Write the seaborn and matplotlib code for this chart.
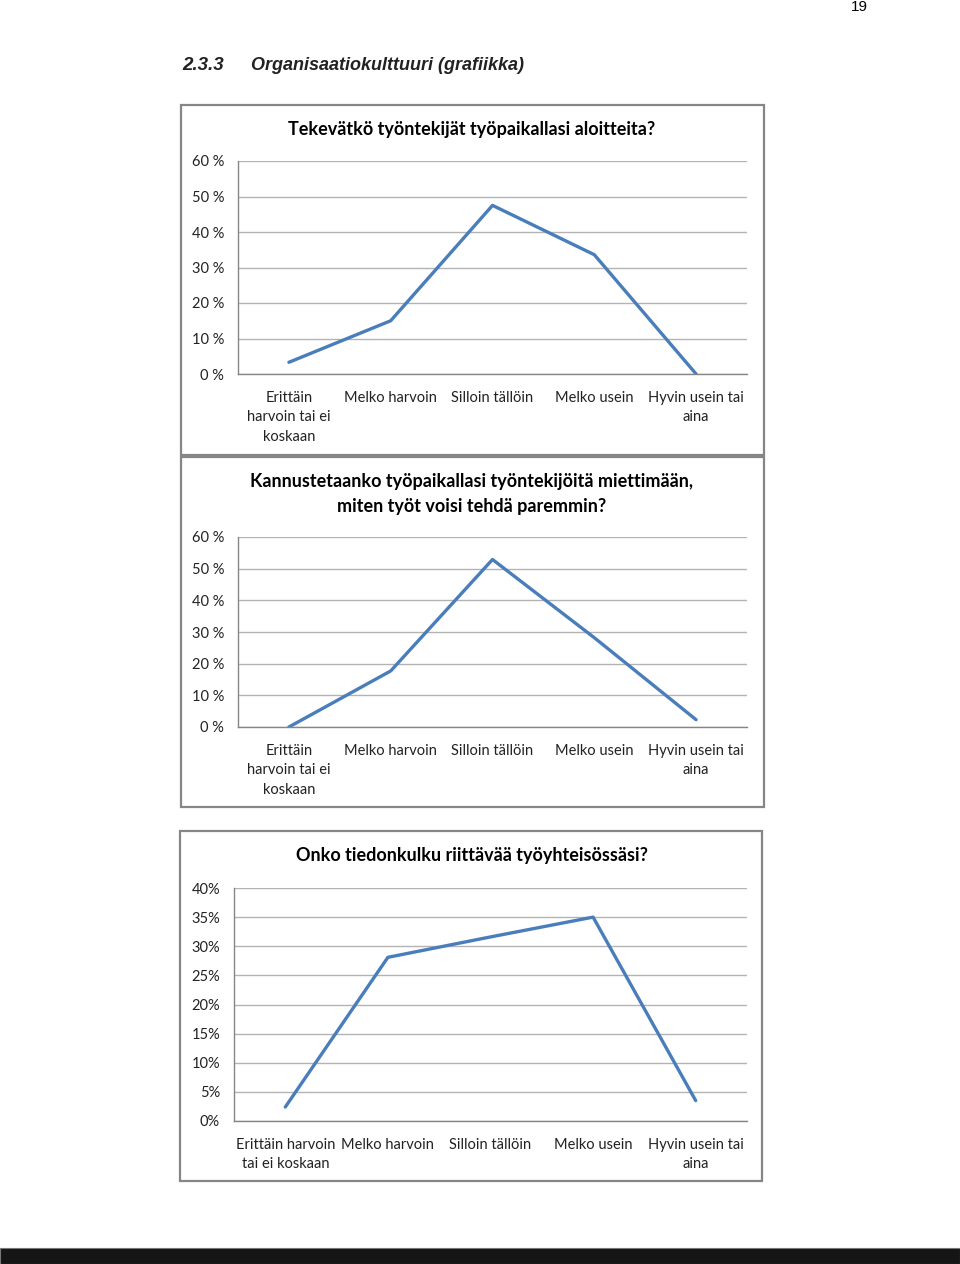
import numpy as np
import pandas as pd
import matplotlib
matplotlib.use('Agg')
import matplotlib.pyplot as plt
from matplotlib.patches import Rectangle
import seaborn as sns

sns.set_style('white')
plt.rcParams['font.family'] = ['Lato', 'DejaVu Sans']

W, H = 960, 1264
blue = '#4a7ebb'
gridc = '#b3b3b3'
axisc = '#868686'

# ---- data ----
cats_a = ['Erittäin\nharvoin tai ei\nkoskaan', 'Melko harvoin', 'Silloin tällöin',
          'Melko usein', 'Hyvin usein tai\naina']
cats_b = ['Erittäin harvoin\ntai ei koskaan', 'Melko harvoin', 'Silloin tällöin',
          'Melko usein', 'Hyvin usein tai\naina']

title1 = 'Tekevätkö työntekijät työpaikallasi aloitteita?'
vals1 = [0.033, 0.150, 0.475, 0.336, 0.0]

title2 = 'Kannustetaanko työpaikallasi työntekijöitä miettimään,\nmiten työt voisi tehdä paremmin?'
vals2 = [0.0, 0.177, 0.529, 0.282, 0.023]

title3 = 'Onko tiedonkulku riittävää työyhteisössäsi?'
vals3 = [0.024, 0.281, 0.316, 0.350, 0.035]

yt1 = [0, 0.1, 0.2, 0.3, 0.4, 0.5, 0.6]
yl1 = ['0 %', '10 %', '20 %', '30 %', '40 %', '50 %', '60 %']
yt3 = [0, 0.05, 0.10, 0.15, 0.20, 0.25, 0.30, 0.35, 0.40]
yl3 = ['0%', '5%', '10%', '15%', '20%', '25%', '30%', '35%', '40%']


def px_box(x0, y0, x1, y1):
    return [x0 / W, 1 - y1 / H, (x1 - x0) / W, (y1 - y0) / H]


def frame(fig, x0, y0, x1, y1):
    r = Rectangle((x0 / W, 1 - y1 / H), (x1 - x0) / W, (y1 - y0) / H,
                  transform=fig.transFigure, fill=False, ec=axisc, lw=1.6)
    fig.patches.append(r)


def line_chart(fig, box, cats, vals, yticks, ylabels, title, title_y):
    ax = fig.add_axes(px_box(*box))
    df = pd.DataFrame({'cat': cats, 'val': vals})
    sns.lineplot(data=df, x='cat', y='val', sort=False, color=blue, lw=2.4, ax=ax)
    ax.set_xlim(-0.5, len(cats) - 0.5)
    ax.set_ylim(yticks[0], yticks[-1])
    ax.set_yticks(yticks, ylabels)
    ax.set_xticks(np.arange(-0.5, len(cats), 1), [''] * (len(cats) + 1))
    ax.set_xticks(np.arange(len(cats)), cats, minor=True)
    ax.tick_params(axis='x', which='major', length=4, color=axisc, width=1, direction='out')
    ax.tick_params(axis='x', which='minor', length=0, pad=12, labelsize=10.5, colors='#222222')
    ax.tick_params(axis='y', length=4, color=axisc, width=1, direction='out',
                   pad=6, labelsize=10.5, labelcolor='#222222')
    for lab in ax.get_xticklabels(minor=True):
        lab.set_linespacing(1.5)
    ax.yaxis.grid(True, color=gridc, lw=1)
    ax.xaxis.grid(False)
    for s in ['top', 'right']:
        ax.spines[s].set_visible(False)
    for s in ['left', 'bottom']:
        ax.spines[s].set_color(axisc)
        ax.spines[s].set_linewidth(1)
    ax.set_xlabel('')
    ax.set_ylabel('')
    ax.set_facecolor('none')
    fig.text(472 / W, 1 - title_y / H, title, ha='center', va='center',
             fontsize=13, fontweight='bold', color='black', linespacing=1.6)
    return ax


fig = plt.figure(figsize=(W / 100, H / 100), dpi=100)
fig.patch.set_facecolor('white')

# page header
fig.text(868 / W, 1 - 7 / H, '19', ha='right', va='center', fontsize=11,
         family=['Liberation Sans', 'DejaVu Sans'], color='black')
fig.text(182 / W, 1 - 65 / H, '2.3.3', ha='left', va='center', fontsize=13.5,
         fontweight='bold', style='italic', family=['Liberation Sans', 'DejaVu Sans'],
         color='#222222')
fig.text(251 / W, 1 - 65 / H, 'Organisaatiokulttuuri (grafiikka)', ha='left', va='center',
         fontsize=13, fontweight='bold', style='italic',
         family=['Liberation Sans', 'DejaVu Sans'], color='#222222')

# chart frames
frame(fig, 181, 105, 764, 455)
frame(fig, 181, 457, 764, 807)
frame(fig, 180, 831, 762, 1181)

line_chart(fig, (238, 161, 747, 374), cats_a, vals1, yt1, yl1, title1, 130)
line_chart(fig, (238, 537, 747, 727), cats_a, vals2, yt1, yl1, title2, 494)
line_chart(fig, (234, 888, 747, 1121), cats_b, vals3, yt3, yl3, title3, 856)

# dark bar at the bottom of the page
fig.patches.append(Rectangle((0, 0), 1, 16 / H, transform=fig.transFigure,
                             fc='#151515', ec='#777777', lw=0.8))

fig.savefig('out.png', dpi=100)
